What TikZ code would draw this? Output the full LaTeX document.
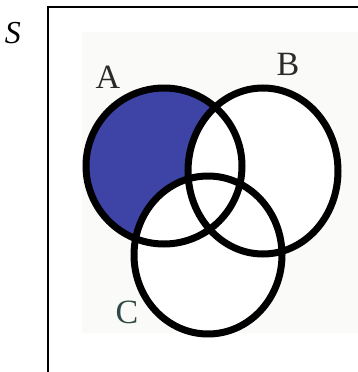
\documentclass[tikz,border=0pt]{standalone}
\usepackage{fontspec}
\setmainfont{Liberation Serif}
\usepackage{tikz}
\definecolor{vennBlue}{HTML}{3E43A6}
\definecolor{vennInk}{HTML}{2A2A2A}
\definecolor{vennTeal}{HTML}{2E4A45}
\definecolor{vennPaper}{HTML}{FAFAF8}
\tikzset{
  venn ring/.style={draw=black, line width=7pt},
  venn label/.style={font=\fontsize{34}{36}\selectfont, text=vennInk, inner sep=0pt},
}
\begin{document}
\begin{tikzpicture}[x=1pt,y=-1pt]
\useasboundingbox (0,0) rectangle (358,372);
\clip (0,0) rectangle (358,372);
% frame and pasted picture
\fill[vennPaper] (82,32) rectangle (358,333);
\draw[line width=1.6pt] (48,380) -- (48,7) -- (370,7);
\node[venn label, font=\fontsize{32}{34}\selectfont\itshape, text=black] (sLab) at (13,33) {S};
% centres
\coordinate (cA) at (164,166);
\coordinate (cB) at (263,171);
\coordinate (cC) at (208,255);
% A only
\fill[vennBlue] (cA) ellipse [x radius=78pt, y radius=78pt];
\fill[white] (cB) ellipse [x radius=75pt, y radius=83pt];
\fill[white] (cC) ellipse [x radius=74pt, y radius=79pt];
% rings
\draw[venn ring] (cA) ellipse [x radius=78pt, y radius=78pt];
\draw[venn ring] (cB) ellipse [x radius=75pt, y radius=83pt];
\draw[venn ring] (cC) ellipse [x radius=74pt, y radius=79pt];
% labels
\node[venn label] (aLab) at (108,77) {A};
\node[venn label] (bLab) at (288,64) {B};
\node[venn label, text=vennTeal] (cLab) at (127,312) {C};
\end{tikzpicture}
\end{document}
